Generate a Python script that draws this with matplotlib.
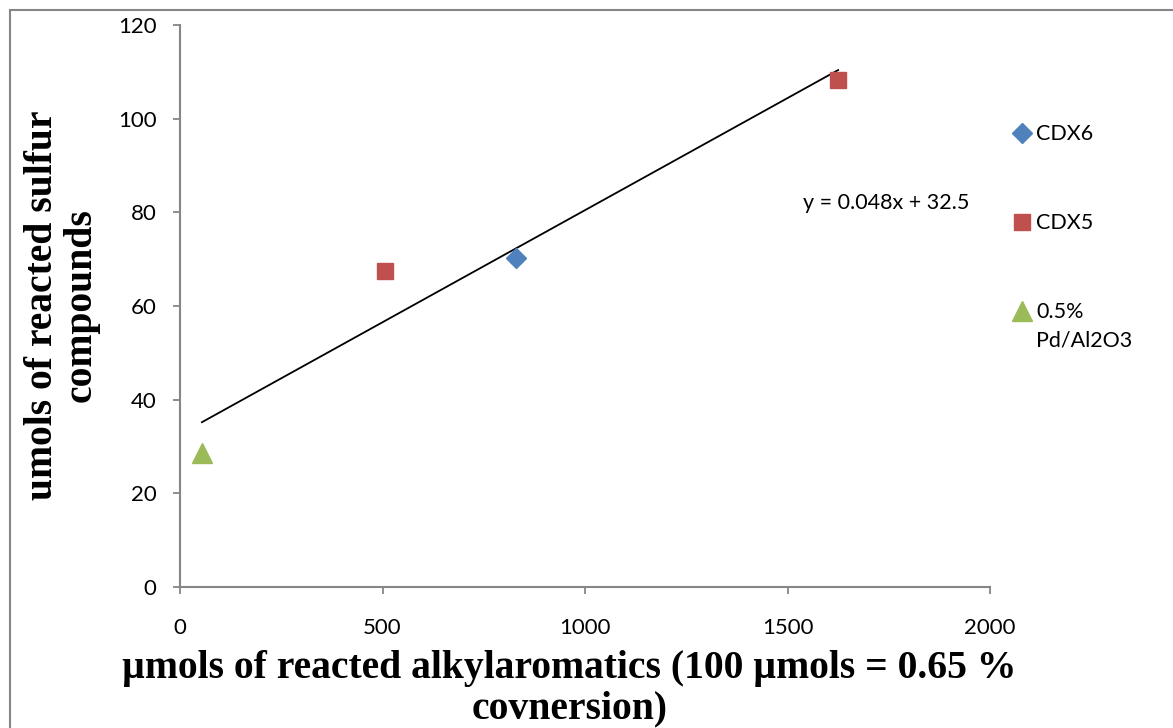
"""
Reacted sulfur compounds vs reacted alkylaromatics, with linear trend line
"""

import numpy as np
import matplotlib
matplotlib.use('Agg')
import matplotlib.pyplot as plt
from matplotlib.patches import Rectangle

# data
catalysts = ['CDX6', 'CDX5', '0.5%']
pd_second_line = 'Pd/Al2O3'
x_cdx6 = [830]
y_cdx6 = [70.3]
x_cdx5 = [506, 1625]
y_cdx5 = [67.5, 108.3]
x_pd = [54]
y_pd = [28.6]
x_ticks = [0, 500, 1000, 1500, 2000]
y_ticks = [0, 20, 40, 60, 80, 100, 120]
fit_label = 'y = 0.048x + 32.5'

colors = ['#4F81BD', '#C0504D', '#9BBB59']
axis_gray = '#868686'

fig = plt.figure(figsize=(11.73, 7.28), dpi=100)
ax = fig.add_axes([0.1535, 0.1937, 0.6905, 0.772])

# outer frame of the chart area
fig.patches.append(Rectangle((10 / 1173, -0.05), 1.2, 1.05 - 10 / 728,
                             transform=fig.transFigure, fill=False,
                             edgecolor=axis_gray, linewidth=1.5))

ax.plot(x_cdx6, y_cdx6, 'D', color=colors[0], markersize=10, label=catalysts[0], zorder=3)
ax.plot(x_cdx5, y_cdx5, 's', color=colors[1], markersize=12, label=catalysts[1], zorder=3)
ax.plot(x_pd, y_pd, '^', color=colors[2], markersize=14, label=catalysts[2], zorder=3)

# linear trend line over all points
all_x = np.array(x_cdx6 + x_cdx5 + x_pd, dtype=float)
all_y = np.array(y_cdx6 + y_cdx5 + y_pd, dtype=float)
slope, intercept = np.polyfit(all_x, all_y, 1)
xs = np.array([all_x.min(), all_x.max()])
ax.plot(xs, slope * xs + intercept, color='black', linewidth=1.3, zorder=2)
ax.text(1538, 82, fit_label, fontsize=15.5, family='Lato', va='center', ha='left')

ax.set_xlim(0, 2000)
ax.set_ylim(0, 120)
ax.set_xticks(x_ticks)
ax.set_yticks(y_ticks)
for s in ['top', 'right']:
    ax.spines[s].set_visible(False)
for s in ['left', 'bottom']:
    ax.spines[s].set_color(axis_gray)
    ax.spines[s].set_linewidth(1.5)
ax.tick_params(axis='both', direction='out', length=5, width=1.3, color=axis_gray,
               labelsize=16)
ax.tick_params(axis='x', pad=17)
ax.tick_params(axis='y', pad=12)
for lab in ax.get_xticklabels() + ax.get_yticklabels():
    lab.set_family('Lato')

ax.set_xlabel('µmols of reacted alkylaromatics (100 µmols = 0.65 %\ncovnersion)',
              family='Liberation Serif', fontweight='bold', fontsize=28.5,
              linespacing=1.12)
ax.xaxis.set_label_coords(0.481, -0.112)
ax.set_ylabel('umols of reacted sulfur\ncompounds',
              family='Liberation Serif', fontweight='bold', fontsize=28.5,
              linespacing=1.08)
ax.yaxis.set_label_coords(-0.099, 0.502)

leg = ax.legend(loc='upper left', bbox_to_anchor=(1.029, 0.823), frameon=False,
                prop={'family': 'Lato', 'size': 15.5}, labelspacing=3.2,
                handletextpad=0.25, handlelength=0.8, borderpad=0, borderaxespad=0)

# second line of the Pd/Al2O3 legend entry, under its first line
fig.canvas.draw()
bb = leg.get_texts()[2].get_window_extent()
fig.text(bb.x0 / fig.bbox.width, (bb.y0 - 28) / fig.bbox.height, pd_second_line,
         family='Lato', fontsize=15.5, ha='left', va='bottom')

plt.savefig('out.png', dpi=100)
